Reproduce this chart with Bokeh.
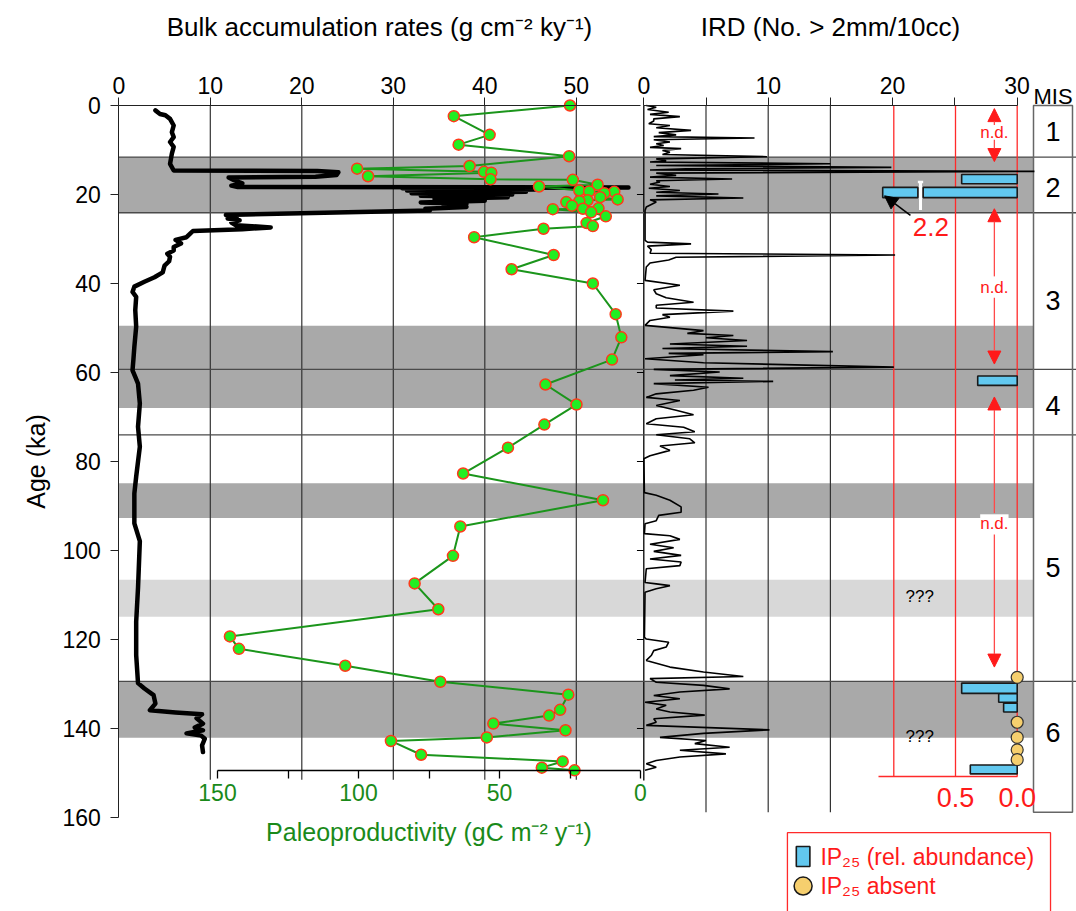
from bokeh.plotting import figure
from bokeh.models import Range1d, FixedTicker, Label, Arrow, NormalHead, LinearAxis
from bokeh.embed import file_html
from bokeh.resources import INLINE
from bokeh.core.properties import value

FONT = "Liberation Sans"

# ---------------- data ----------------
age_ticks = [0, 20, 40, 60, 80, 100, 120, 140, 160]
bulk_ticks = [0, 10, 20, 30, 40, 50]
ird_ticks = [0, 5, 10, 15, 20, 25, 30]
ird_tick_labels = ["0", "", "10", "", "20", "", "30"]
paleo_ticks = [150, 125, 100, 75, 50, 25, 0]
paleo_tick_labels = ["150", "", "100", "", "50", "", "0"]
ip_ticks = [1.0, 0.5, 0.0]
ip_tick_labels = ["", "0.5", "0.0"]

mis_names = ["1", "2", "3", "4", "5", "6"]
mis_name_age = [5.8, 18.5, 43.8, 67.4, 103.8, 141.0]
mis_boundaries = [11.6, 24.1, 59.3, 74.0, 129.4]
dark_band_top = [11.6, 49.5, 84.9, 129.4]
dark_band_bottom = [24.1, 68.0, 92.7, 142.1]
light_band_top = [106.6]
light_band_bottom = [114.9]

bulk_age = [1.1, 1.9, 2.2, 3.0, 4.5, 6.0, 7.1, 8.2, 9.3, 10.8, 13.1, 14.6, 14.7, 15.0,
            15.6, 16.0, 16.2, 16.8, 17.5, 18.0, 18.3, 18.4, 18.6, 18.9, 19.1, 19.4, 19.7,
            20.0, 20.3, 20.6, 21.0, 21.4, 21.8, 22.1, 22.5, 22.8, 23.2, 23.6, 24.0, 24.6,
            25.0, 25.4, 25.8, 26.3, 26.9, 27.4, 27.8, 28.2, 28.8, 29.6, 30.2, 31.0, 31.8,
            32.6, 33.3, 34.0, 35.0, 36.0, 37.5, 38.6, 39.6, 40.7, 41.9, 43.0, 46.0, 49.7,
            54.2, 57.0, 59.5, 61.0, 62.5, 67.0, 72.2, 76.7, 83.4, 87.2, 93.9, 97.9, 108.4,
            116.0, 123.5, 129.8, 131.0, 132.5, 134.4, 135.9, 136.4, 136.8, 137.7, 138.9,
            139.8, 140.4, 141.1, 141.6, 142.3, 143.8, 145.3]
bulk_rate = [4.0, 4.5, 5.1, 5.6, 6.0, 5.8, 6.0, 5.6, 6.0, 5.8, 5.6, 6.0, 21.7, 24.0,
             23.8, 21.5, 12.0, 12.6, 13.5, 12.3, 13.0, 55.7, 31.0, 45.5, 31.5, 44.5, 32.0,
             43.0, 33.0, 42.5, 34.5, 40.0, 33.0, 38.0, 35.5, 38.0, 33.5, 34.0, 25.0, 11.7,
             12.9, 11.9, 13.2, 12.3, 12.8, 16.6, 13.5, 8.1, 7.8, 7.4, 6.2, 6.8, 6.0,
             6.0, 5.3, 5.6, 5.5, 5.0, 4.8, 3.9, 2.8, 1.7, 1.5, 1.9, 1.8, 1.9,
             1.7, 1.6, 1.5, 1.8, 2.1, 2.3, 2.1, 2.3, 1.9, 1.7, 1.7, 2.3, 2.1,
             1.9, 1.9, 2.1, 2.8, 3.8, 4.0, 3.4, 6.2, 9.1, 8.5, 9.2,
             8.3, 9.2, 7.4, 9.0, 9.4, 9.1, 9.2]

paleo_age = [0.0, 2.4, 6.6, 8.8, 11.4, 13.6, 14.2, 14.9, 15.1, 15.9, 16.6, 16.7, 17.8,
             18.2, 19.1, 19.3, 19.4, 19.7, 20.6, 21.1, 21.3, 21.5, 21.7, 22.5, 23.1, 23.2,
             23.3, 24.0, 24.9, 26.4, 27.1, 27.7, 29.6, 33.6, 36.8, 40.0, 46.9, 52.1, 57.1,
             62.7, 67.2, 71.7, 76.9, 82.7, 88.7, 94.6, 101.2, 107.4, 113.2, 119.3, 122.1,
             125.9, 129.5, 132.4, 135.8, 137.1, 138.9, 140.4, 142.0, 142.8, 145.9, 147.4,
             148.8, 149.4]
paleo_value = [25.0, 66.2, 53.5, 64.5, 25.3, 60.6, 100.5, 55.5, 52.9, 96.6, 53.2, 24.0, 15.2,
               36.0, 21.7, 18.2, 9.3, 12.8, 14.3, 8.1, 18.8, 21.7, 26.3, 24.3, 14.9, 20.4,
               31.1, 17.5, 12.3, 19.1, 16.9, 34.4, 59.0, 30.8, 45.7, 16.9, 8.8, 6.8, 10.1,
               33.7, 22.7, 34.1, 47.0, 62.9, 13.3, 63.9, 66.5, 80.1, 71.7, 145.6, 142.4,
               104.7, 71.0, 25.6, 28.5, 32.4, 52.2, 26.6, 54.5, 88.5, 77.8, 27.6,
               35.0, 23.4]

ird_age = [0.0, 0.4, 0.9, 1.5, 2.0, 2.5, 3.0, 3.5, 4.1, 4.5, 5.0, 5.6, 6.1, 6.6, 7.0, 7.3,
           7.7, 8.2, 8.6, 9.0, 9.4, 9.7, 10.1, 10.5, 11.0, 11.5, 12.0, 12.4, 12.7, 13.1,
           13.5, 13.9, 14.2, 14.5, 14.8, 15.2, 15.7, 16.1, 16.5, 16.9, 17.2, 17.7, 18.2,
           18.6, 19.1, 19.5, 19.9, 20.3, 20.8, 21.2, 21.7, 22.8, 23.6, 30.3, 30.7, 31.1,
           31.6, 32.4, 33.2, 33.6, 34.1, 34.7, 35.4, 36.3, 39.3, 40.4, 41.4, 42.3, 43.2,
           44.2, 44.9, 45.5, 46.2, 47.0, 47.6, 48.3, 49.4, 50.6, 51.2, 51.7, 52.2, 52.8,
           53.6, 54.1, 54.6, 55.3, 55.7, 56.0, 56.9, 57.8, 58.8, 59.3, 59.9, 60.7, 61.3,
           61.7, 62.0, 62.5, 63.3, 64.0, 64.8, 65.6, 66.3, 67.4, 68.5, 69.5, 70.4, 71.5,
           72.3, 73.3, 74.0, 74.9, 75.8, 76.5, 77.5, 78.7, 79.4, 87.0, 87.6, 88.7, 90.2,
           91.4, 92.1, 93.3, 94.0, 96.2, 96.7, 97.5, 98.6, 99.4, 100.2, 101.1, 101.9,
           102.6, 103.4, 104.1, 107.2, 107.5, 107.9, 108.6, 109.4, 119.5, 119.9, 120.6,
           121.7, 122.5, 123.6, 124.7, 126.2, 127.3, 128.3, 128.8, 129.6, 130.3, 131.1,
           131.8, 132.6, 133.3, 134.1, 134.8, 135.6, 136.3, 137.0, 137.8, 138.6, 139.3,
           140.3, 141.1, 142.0, 142.7, 143.4, 144.2, 144.9, 145.7, 146.4, 147.2, 147.9,
           148.7, 149.4]
ird_count = [0.2, 1.0, 0.3, 2.0, 0.5, 2.9, 0.8, 0.8, 0.4, 2.1, 1.0, 3.8, 1.2, 2.6, 0.8, 8.9,
             0.8, 2.1, 1.0, 1.6, 0.5, 3.0, 1.5, 2.1, 1.5, 9.9, 1.0, 1.8, 0.5, 15.0,
             1.0, 19.9, 3.4, 0.5, 31.4, 1.0, 2.6, 0.5, 7.1, 1.0, 1.3, 0.5, 2.1,
             0.4, 2.9, 1.0, 6.0, 1.0, 8.0, 0.5, 1.0, 0.2, 0.1, 0.1, 0.3, 3.8,
             0.3, 0.6, 0.5, 20.2, 2.6, 2.0, 0.5, 0.2, 0.1, 2.9, 0.8, 1.0, 1.8,
             4.0, 1.0, 1.0, 7.2, 1.5, 2.1, 0.5, 0.1, 4.8, 3.5, 7.2, 5.0, 8.3,
             2.1, 8.3, 1.5, 15.2, 2.0, 4.8, 0.1, 4.8, 20.1, 0.8, 6.1, 2.1, 8.0,
             2.5, 10.4, 0.8, 5.2, 4.0, 1.0, 0.2, 2.9, 1.0, 2.6, 4.0, 1.0, 0.2,
             3.2, 4.1, 1.0, 3.7, 4.1, 1.3, 2.1, 0.5, 0.0, 0.05, 1.0, 2.1, 3.0,
             3.0, 1.2, 1.0, 0.1, 0.05, 2.1, 2.9, 0.5, 2.4, 0.8, 3.0, 0.5,
             3.0, 2.9, 0.2, 0.1, 1.0, 2.1, 1.0, 0.1, 0.05, 0.2, 2.0,
             1.8, 0.8, 0.6, 0.2, 2.1, 4.8, 8.0, 0.5, 1.0, 4.8, 6.9,
             2.9, 0.8, 2.9, 0.1, 1.8, 1.0, 2.1, 4.9, 0.8, 1.0, 0.2,
             10.1, 4.8, 1.3, 5.0, 4.1, 6.9, 2.9, 6.6, 2.9, 1.0, 0.2,
             1.0, 0.1]

ip25_top = [15.5, 18.4, 60.8, 129.8, 132.2, 134.3, 148.2]
ip25_bottom = [17.6, 20.7, 62.9, 132.1, 134.1, 136.3, 150.2]
ip25_value = [0.45, 2.2, 0.32, 0.45, 0.15, 0.11, 0.38]
ip25_absent_age = [128.5, 138.6, 142.0, 144.8, 147.0]

nd_text_age = [6.0, 40.8, 94.0]
nd_up_from = [4.4, 38.4, 91.6]
nd_up_to = [0.7, 23.2, 65.5]
nd_down_from = [7.7, 43.2, 96.4]
nd_down_to = [12.6, 58.1, 126.2]
unknown_age = [110.3, 141.8]

legend_labels = ["IP\u2082\u2085  (rel. abundance)", "IP\u2082\u2085 absent"]

# ---------------- layout: frame = whole canvas ----------------
W, H = 1076, 911
PX_KA = 4.45            # pixels per ka
AGE0_CY = 105.0         # canvas y of age 0
BULK0_CX, BULK_PX = 118.3, 9.15
IRD0_CX, IRD_PX = 643.3, 12.44
IP0_CX, IP_PX = 1016.7, 123.4
PALEO0_CX, PALEO_PX = 640.0, 2.82
MIS_LEFT_CX, MIS_RIGHT_CX = 1033.0, 1072.0

y_rng = Range1d((H - AGE0_CY) / PX_KA, -AGE0_CY / PX_KA)
bulk_rng = Range1d(-BULK0_CX / BULK_PX, (W - BULK0_CX) / BULK_PX)
ird_rng = Range1d(-IRD0_CX / IRD_PX, (W - IRD0_CX) / IRD_PX)
ip_rng = Range1d(IP0_CX / IP_PX, -(W - IP0_CX) / IP_PX)
paleo_rng = Range1d(PALEO0_CX / PALEO_PX, -(W - PALEO0_CX) / PALEO_PX)


def cx_to_ip(cx):
    return (IP0_CX - cx) / IP_PX


def cx_to_bulk(cx):
    return (cx - BULK0_CX) / BULK_PX


MIS_LEFT = cx_to_ip(MIS_LEFT_CX)
MIS_RIGHT = cx_to_ip(MIS_RIGHT_CX)
MIS_X = cx_to_ip((MIS_LEFT_CX + MIS_RIGHT_CX) / 2)
BULK_PANEL_END = cx_to_bulk(PALEO0_CX)
BAND_LEFT = cx_to_ip(BULK0_CX)

p = figure(width=W, height=H, x_range=bulk_rng, y_range=y_rng,
           x_axis_location=None, y_axis_location=None,
           output_backend="svg", toolbar_location=None,
           min_border_left=0, min_border_right=0, min_border_top=0, min_border_bottom=0)
p.extra_x_ranges = {"ird": ird_rng, "ip": ip_rng, "paleo": paleo_rng}
p.outline_line_color = None
p.xgrid.visible = False
p.ygrid.visible = False
p.background_fill_color = "white"
p.border_fill_color = "white"


def style(ax, color="black", size="23px"):
    ax.major_label_text_font = FONT
    ax.major_label_text_font_size = size
    ax.major_label_text_color = color
    ax.axis_label_text_font = FONT
    ax.axis_label_text_font_style = "normal"
    ax.axis_label_text_color = color
    ax.axis_label_text_font_size = "26px"
    ax.major_tick_in = 0
    ax.minor_tick_in = 0
    ax.minor_tick_out = 0
    ax.axis_line_color = "#222222"
    ax.major_tick_line_color = "#222222"


# top axis: bulk accumulation rates
ax_bulk = LinearAxis(fixed_location=0, bounds=(0, BULK_PANEL_END),
                     ticker=FixedTicker(ticks=bulk_ticks, minor_ticks=[]),
                     axis_label="Bulk accumulation rates (g cm\u207b\u00b2 ky\u207b\u00b9)")
style(ax_bulk)
ax_bulk.major_tick_out = 8
ax_bulk.major_label_standoff = 4
ax_bulk.axis_label_standoff = 32
p.add_layout(ax_bulk, "above")

# top axis: IRD
ax_ird = LinearAxis(x_range_name="ird", fixed_location=0, bounds=(0, 30),
                    ticker=FixedTicker(ticks=ird_ticks, minor_ticks=[]),
                    major_label_overrides={t: lab for t, lab in zip(ird_ticks, ird_tick_labels)},
                    axis_label="IRD (No. > 2mm/10cc)")
style(ax_ird)
ax_ird.major_tick_out = 8
ax_ird.major_label_standoff = 4
ax_ird.axis_label_standoff = 32
p.add_layout(ax_ird, "above")

# left axis: age
ax_age = LinearAxis(fixed_location=0, bounds=(0, 160),
                    ticker=FixedTicker(ticks=age_ticks, minor_ticks=[]),
                    axis_label="Age (ka)")
style(ax_age)
ax_age.axis_label_text_font_size = "25px"
ax_age.major_tick_out = 8
ax_age.major_label_standoff = 10
ax_age.axis_label_standoff = 9
p.add_layout(ax_age, "left")

# paleoproductivity axis (bottom of left panel)
PA_AGE = 149.4
ax_paleo = LinearAxis(x_range_name="paleo", fixed_location=PA_AGE, bounds=(0, 150),
                      ticker=FixedTicker(ticks=paleo_ticks, minor_ticks=[]),
                      major_label_overrides={t: lab for t, lab in zip(paleo_ticks, paleo_tick_labels)},
                      axis_label="Paleoproductivity (gC m\u207b\u00b2 y\u207b\u00b9)")
style(ax_paleo, color="#1a8a1a")
ax_paleo.axis_label_text_font_size = "25px"
ax_paleo.axis_line_color = "black"
ax_paleo.axis_line_width = 1.6
ax_paleo.major_tick_line_color = "black"
ax_paleo.major_tick_line_width = 1.3
ax_paleo.major_tick_out = 8
ax_paleo.major_label_standoff = 6
ax_paleo.axis_label_standoff = 13
p.add_layout(ax_paleo, "below")

# IP25 axis
IP_AXIS_AGE = 150.8
ax_ip = LinearAxis(x_range_name="ip", fixed_location=IP_AXIS_AGE, bounds=(0, 1.12),
                   ticker=FixedTicker(ticks=ip_ticks, minor_ticks=[]),
                   major_label_overrides={t: lab for t, lab in zip(ip_ticks, ip_tick_labels)})
style(ax_ip, color="#ff1a1a", size="27px")
ax_ip.axis_line_color = "#ff2a2a"
ax_ip.axis_line_width = 1.5
ax_ip.major_tick_out = 0
ax_ip.major_label_standoff = 11
p.add_layout(ax_ip, "below")

# ---------------- bands ----------------
p.quad(left=BAND_LEFT, right=MIS_LEFT, top=dark_band_top, bottom=dark_band_bottom,
       x_range_name="ip", fill_color="#a9a9a9", line_color=None)
p.quad(left=BAND_LEFT, right=MIS_LEFT, top=light_band_top, bottom=light_band_bottom,
       x_range_name="ip", fill_color="#d8d8d8", line_color=None)

# ---------------- grid lines ----------------
GRID_C = "#333333"
left_grid = [t for t in bulk_ticks if t > 0]
p.segment(x0=left_grid, x1=left_grid, y0=[0] * len(left_grid), y1=[151.5] * len(left_grid),
          line_color=GRID_C, line_width=1.2)
ird_grid = [5, 10, 15]
p.segment(x0=ird_grid, x1=ird_grid, y0=[0] * 3, y1=[158.8] * 3, x_range_name="ird",
          line_color=GRID_C, line_width=1.2)
p.segment(x0=[0], x1=[0], y0=[0], y1=[151.7], x_range_name="ird", line_color="black", line_width=1.3)
ird_age_ticks = [20, 40, 60, 80, 100, 120, 140]
p.segment(x0=[-0.55] * 7, x1=[0] * 7, y0=ird_age_ticks, y1=ird_age_ticks, x_range_name="ird",
          line_color="black", line_width=1)

# MIS boundaries and box
p.segment(x0=[0] * len(mis_boundaries), x1=[bulk_rng.end] * len(mis_boundaries),
          y0=mis_boundaries, y1=mis_boundaries, line_color="#4a4a4a", line_width=1.3)
p.quad(left=[MIS_LEFT], right=[MIS_RIGHT], top=[0], bottom=[158.8], x_range_name="ip",
       fill_color=None, line_color="#666666", line_width=1.5)

# red IP25 scale lines
p.segment(x0=ip_ticks, x1=ip_ticks, y0=[0] * 3, y1=[IP_AXIS_AGE] * 3, x_range_name="ip",
          line_color="#ff2a2a", line_width=1.3)

# ---------------- IRD ----------------
p.line(x=ird_count, y=ird_age, x_range_name="ird", line_color="black", line_width=1.6)

# ---------------- bulk accumulation ----------------
p.line(x=bulk_rate, y=bulk_age, line_color="black", line_width=4.5, line_join="round", line_cap="round")

# ---------------- paleoproductivity ----------------
p.line(x=paleo_value, y=paleo_age, x_range_name="paleo", line_color="#1b951b", line_width=2)
p.scatter(x=paleo_value, y=paleo_age, x_range_name="paleo", size=11, fill_color="#22ee22",
          line_color="#ff3a1a", line_width=1.5)

# ---------------- IP25 bars ----------------
CAP, BRK_HI, BRK_LO = 1.09, 0.805, 0.762
bl, br, bt, bb = [], [], [], []
for v, t, b in zip(ip25_value, ip25_top, ip25_bottom):
    if v > CAP:
        bl += [CAP, BRK_LO]
        br += [BRK_HI, 0.0]
        bt += [t, t]
        bb += [b, b]
    else:
        bl.append(v)
        br.append(0.0)
        bt.append(t)
        bb.append(b)
p.quad(left=bl, right=br, top=bt, bottom=bb, x_range_name="ip",
       fill_color="#62c8ef", line_color="#1a1a1a", line_width=1.6)
for v, t, b in zip(ip25_value, ip25_top, ip25_bottom):
    if v > CAP:
        mid = (BRK_HI + BRK_LO) / 2
        p.segment(x0=[mid], x1=[mid], y0=[t - 1.2], y1=[b + 2.8], x_range_name="ip",
                  line_color="white", line_width=3)
        p.segment(x0=[BRK_HI], x1=[BRK_LO], y0=[t - 1.2], y1=[t - 1.2], x_range_name="ip",
                  line_color="white", line_width=2.5)
p.scatter(x=[0.0] * len(ip25_absent_age), y=ip25_absent_age, x_range_name="ip", size=12,
          fill_color="#f6cf6e", line_color="#333333", line_width=1.2)

# 2.2 annotation
p.add_layout(Arrow(end=NormalHead(size=13, fill_color="black", line_color="black"),
                   x_start=0.865, y_start=24.7, x_end=1.075, y_end=20.3, x_range_name="ip",
                   line_color="black", line_width=1.5))
p.text(x=[0.70], y=[27.3], text=["%.1f" % max(ip25_value)], x_range_name="ip",
       text_font=value(FONT), text_font_size="26px", text_color="#ff1a1a",
       text_align="center", text_baseline="middle")

# n.d. markers
ND_X = 0.185
for uf, ut, df, dt in zip(nd_up_from, nd_up_to, nd_down_from, nd_down_to):
    for a0, a1 in ((uf, ut), (df, dt)):
        p.add_layout(Arrow(end=NormalHead(size=13, fill_color="#ff1a1a", line_color="#ff1a1a"),
                           x_start=ND_X, y_start=a0, x_end=ND_X, y_end=a1, x_range_name="ip",
                           line_color="#ff4a4a", line_width=1.3))
for i, ta in enumerate(nd_text_age):
    p.add_layout(Label(x=ND_X, y=ta, x_range_name="ip", text="n.d.", text_font=FONT,
                       text_font_size="17px", text_color="#ff1a1a", text_align="center",
                       text_baseline="middle",
                       background_fill_color="white" if i == 2 else None))
p.text(x=[0.79] * len(unknown_age), y=unknown_age, text=["???"] * len(unknown_age),
       x_range_name="ip", text_font=value(FONT), text_font_size="17px", text_color="black",
       text_align="center", text_baseline="middle")

# MIS labels
p.text(x=[MIS_X] * len(mis_names), y=mis_name_age, text=mis_names, x_range_name="ip",
       text_font=value(FONT), text_font_size="27px", text_color="black",
       text_align="center", text_baseline="middle")
p.text(x=[MIS_X], y=[-2.0], text=["MIS"], x_range_name="ip",
       text_font=value(FONT), text_font_size="22px", text_color="black",
       text_align="center", text_baseline="middle")

# ---------------- legend box ----------------
p.quad(left=[1.862], right=[-0.27], top=[163.4], bottom=[183.0], x_range_name="ip",
       fill_color="white", line_color="#ff2a2a", line_width=1.3)
p.quad(left=[1.79], right=[1.68], top=[166.5], bottom=[171.0], x_range_name="ip",
       fill_color="#62c8ef", line_color="#1a1a1a", line_width=1.6)
p.scatter(x=[1.735], y=[175.4], x_range_name="ip", size=18, fill_color="#f6cf6e",
          line_color="#1a1a1a", line_width=1.5)
p.text(x=[1.595, 1.595], y=[168.9, 175.3], text=legend_labels, x_range_name="ip",
       text_font=value(FONT), text_font_size="23px", text_color="#ff1a1a",
       text_align="left", text_baseline="middle")

open("out.html", "w").write(file_html(p, INLINE))
